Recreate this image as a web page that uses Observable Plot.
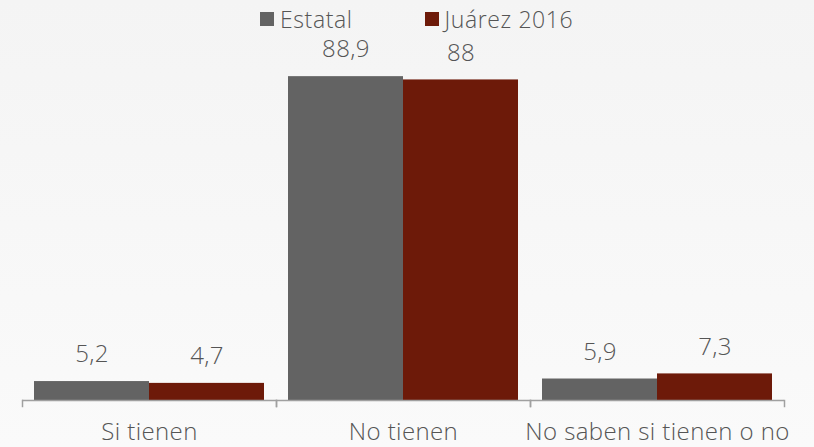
<!DOCTYPE html>
<html><head><meta charset="utf-8">
<script src="https://cdn.jsdelivr.net/npm/d3@7"></script>
<script src="https://cdn.jsdelivr.net/npm/@observablehq/plot@0.6"></script>
<style>
html,body{margin:0;padding:0;}
body{width:814px;height:447px;overflow:hidden;background:linear-gradient(#f4f4f4,#fafafa);font-family:"Open Sans",sans-serif;font-weight:300;color:#555;position:relative;}
#legend{position:absolute;left:0;top:0;height:38px;display:flex;align-items:center;padding-left:260px;font-size:23px;letter-spacing:0.6px;box-sizing:border-box;z-index:2;}
#legend .it{display:flex;align-items:center;}
#legend .sw{width:14px;height:14px;margin-right:6px;}
svg{display:block;}
</style></head>
<body>
<div id="legend"></div>
<div id="chart"></div>
<script>
const categories = ["Si tienen", "No tienen", "No saben si tienen o no"];
const seriesNames = ["Estatal", "Juárez 2016"];
const estatal = [5.2, 88.9, 5.9];
const juarez = [4.7, 88, 7.3];
const colors = ["#636363", "#6d1a09"];

const data = [];
categories.forEach((c, i) => {
  data.push({cat: c, series: seriesNames[0], value: estatal[i]});
  data.push({cat: c, series: seriesNames[1], value: juarez[i]});
});
const fmt = v => String(v).replace(".", ",");

const legend = document.getElementById("legend");
seriesNames.forEach((s, i) => {
  const it = document.createElement("div");
  it.className = "it";
  if (i > 0) it.style.marginLeft = "72px";
  it.innerHTML = `<div class="sw" style="background:${colors[i]}"></div><span>${s}</span>`;
  legend.appendChild(it);
});

const chart = Plot.plot({
  width: 814,
  height: 447,
  marginLeft: 22,
  marginRight: 30,
  marginTop: 43,
  marginBottom: 47,
  style: {background: "transparent", fontFamily: "Open Sans, sans-serif", fontWeight: 300, fontSize: "24px", color: "#555", letterSpacing: "0.4px"},
  fx: {domain: categories, padding: 0, label: null},
  x: {domain: seriesNames, paddingInner: 0, paddingOuter: 0.1, axis: null},
  y: {domain: [0, 98], axis: null},
  color: {domain: seriesNames, range: colors},
  marks: [
    Plot.barY(data, {fx: "cat", x: "series", y: "value", fill: "series"}),
    Plot.text(data, {fx: "cat", x: "series", y: "value", text: d => fmt(d.value), dy: -27, fontSize: 24, fill: "#555"}),
    Plot.ruleY([0], {stroke: "#a0a0a0", strokeWidth: 1.5}),
    Plot.frame({anchor: "left", insetTop: 357, insetBottom: -6, stroke: "#a0a0a0", strokeWidth: 1.5}),
    Plot.frame({anchor: "right", insetTop: 357, insetBottom: -6, stroke: "#a0a0a0", strokeWidth: 1.5}),
    Plot.axisFx({anchor: "bottom", tickSize: 0, tickPadding: 22, fontSize: 24, label: null, fill: "#555"})
  ]
});
document.getElementById("chart").appendChild(chart);
</script>
</body></html>
